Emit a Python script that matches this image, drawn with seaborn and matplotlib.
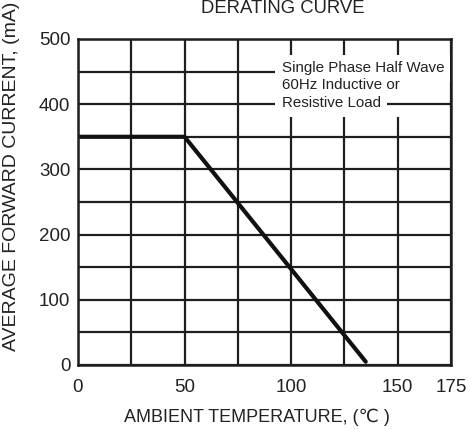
import pandas as pd
import matplotlib
matplotlib.use("Agg")
import matplotlib.pyplot as plt
from matplotlib.patches import Rectangle
import seaborn as sns

# derating curve
temp_c = [0, 50, 135]
current_ma = [350, 350, 5]

x_ticks = [0, 25, 50, 75, 100, 125, 150, 175]
x_labels = ["0", "", "50", "", "100", "", "150", "175"]
y_ticks = [0, 50, 100, 150, 200, 250, 300, 350, 400, 450, 500]
y_labels = ["0", "", "100", "", "200", "", "300", "", "400", "", "500"]

note_lines = ["Single Phase Half Wave", "60Hz Inductive or", "Resistive Load"]
note_y = [455, 429, 401.5]

sns.set_style("white")
plt.rcParams['font.family'] = ['Liberation Sans', 'DejaVu Sans']

df = pd.DataFrame({'temp': temp_c, 'current': current_ma})

fig = plt.figure(figsize=(4.71, 4.29), dpi=100)
ax = fig.add_axes([0.1656, 0.1492, 0.7919, 0.7599])

sns.lineplot(data=df, x='temp', y='current', color='#111111', linewidth=3,
             ax=ax, zorder=3, sort=False)

ax.set_xlim(0, 175)
ax.set_ylim(0, 500)
ax.set_xticks(x_ticks)
ax.set_xticklabels(x_labels)
ax.set_yticks(y_ticks)
ax.set_yticklabels(y_labels)
ax.tick_params(length=0, labelsize=13.5, colors='#222222')
ax.tick_params(axis='x', pad=10)
ax.tick_params(axis='y', pad=5.5)
ax.grid(True, color='#1e1e1e', linewidth=1.6)
for s in ax.spines.values():
    s.set_color('#1e1e1e')
    s.set_linewidth(1.8)
    s.set_zorder(5)

ax.set_xlabel("AMBIENT TEMPERATURE, (℃ )", fontsize=13, color='#222222')
ax.set_ylabel("AVERAGE FORWARD CURRENT, (mA)", fontsize=14, color='#222222')
ax.xaxis.set_label_coords(0.48, -0.135)
ax.yaxis.set_label_coords(-0.155, 0.58)

# white area behind the note hides the vertical grid lines,
# horizontal grid lines stay on top except under each text line
ax.add_patch(Rectangle((91, 380), 83, 95, facecolor='white',
                       edgecolor='none', zorder=2.5))
ax.yaxis.set_zorder(2.7)
for line, yv in zip(note_lines, note_y):
    # white box only (text itself invisible)
    ax.text(95.5, yv, line, fontsize=10.9, color='none', va='center',
            ha='left', zorder=4,
            bbox=dict(facecolor='white', edgecolor='none', pad=4.5))
    ax.text(95.5, yv, line, fontsize=10.9, color='#222222', va='center',
            ha='left', zorder=4.5)

fig.text(283 / 471, 1 - 13 / 429, "DERATING CURVE", fontsize=13.3,
         color='#222222', ha='center', va='baseline')

fig.savefig("out.png", dpi=100, facecolor='white')
